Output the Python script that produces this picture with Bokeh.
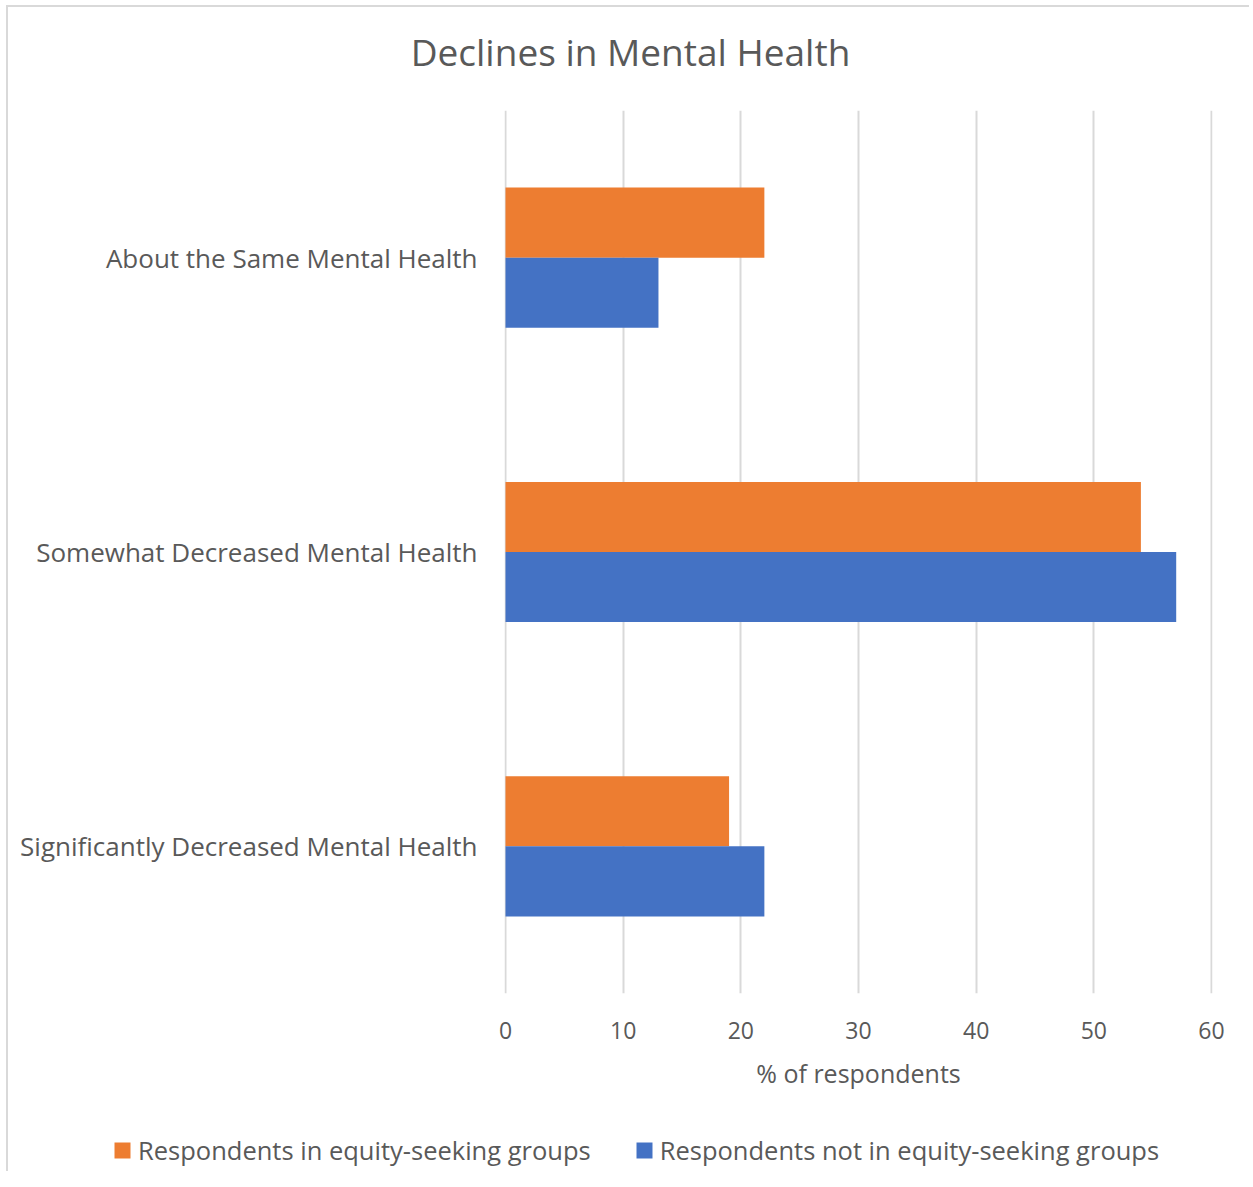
from bokeh.plotting import figure
from bokeh.layouts import column
from bokeh.models import (FactorRange, Legend, LegendItem, ColumnDataSource,
                          FixedTicker, Label, Range1d)
from bokeh.transform import dodge
from bokeh.embed import file_html
from bokeh.resources import INLINE

title_text = "Declines in Mental Health"
categories = ["About the Same Mental Health",
              "Somewhat Decreased Mental Health",
              "Significantly Decreased Mental Health"]
equity = [22, 54, 19]
not_equity = [13, 57, 22]
series_names = ["Respondents in equity-seeking groups",
                "Respondents not in equity-seeking groups"]
x_ticks = [0, 10, 20, 30, 40, 50, 60]
x_label = "% of respondents"

ORANGE = "#ED7D31"
BLUE = "#4472C4"
TEXT = "#595959"
GRID = "#D9D9D9"
FONT = "Open Sans"
W = 1243


def blank(height):
    f = figure(width=W, height=height, x_range=Range1d(0, 1), y_range=Range1d(0, 1),
               min_border=0, min_border_left=0, min_border_right=0,
               min_border_top=0, min_border_bottom=0,
               output_backend="svg", toolbar_location=None)
    f.axis.visible = False
    f.grid.visible = False
    f.outline_line_color = None
    f.border_fill_color = "white"
    f.frame_align = False
    return f


# ---- title strip
top = blank(103)
top.add_layout(Label(x=622, y=59, x_units="screen", y_units="screen", text=title_text,
                     text_align="center", text_baseline="middle",
                     text_font=FONT, text_font_size="37px", text_color=TEXT))

# ---- main chart
src = ColumnDataSource(dict(cat=categories, equity=equity, not_equity=not_equity))

p = figure(y_range=FactorRange(factors=list(reversed(categories)), range_padding=0),
           x_range=(-0.085, 60.085),
           frame_width=708, frame_height=883,
           min_border_left=496, min_border_right=39,
           min_border_top=0, min_border_bottom=100,
           output_backend="svg", toolbar_location=None)
p.frame_align = False

p.hbar(y=dodge("cat", 0.119, range=p.y_range), left=0, right="equity",
       height=0.238, source=src, fill_color=ORANGE, line_color=None)
p.hbar(y=dodge("cat", -0.119, range=p.y_range), left=0, right="not_equity",
       height=0.238, source=src, fill_color=BLUE, line_color=None)

p.outline_line_color = None
p.background_fill_color = "white"
p.border_fill_color = "white"

p.xaxis.ticker = FixedTicker(ticks=x_ticks)
p.xaxis.axis_line_color = None
p.xaxis.major_tick_line_color = None
p.xaxis.minor_tick_line_color = None
p.xaxis.major_label_text_font = FONT
p.xaxis.major_label_text_font_size = "23px"
p.xaxis.major_label_text_color = TEXT
p.xaxis.major_label_standoff = 22
p.xaxis.axis_label = x_label
p.xaxis.axis_label_text_font = FONT
p.xaxis.axis_label_text_font_size = "25px"
p.xaxis.axis_label_text_font_style = "normal"
p.xaxis.axis_label_text_color = TEXT
p.xaxis.axis_label_standoff = 14

p.yaxis.axis_line_color = None
p.yaxis.major_tick_line_color = None
p.yaxis.minor_tick_line_color = None
p.yaxis.major_label_text_font = FONT
p.yaxis.major_label_text_font_size = "26px"
p.yaxis.major_label_text_color = TEXT
p.yaxis.major_label_standoff = 21

p.xgrid.grid_line_color = GRID
p.xgrid.grid_line_width = 2
p.ygrid.grid_line_color = None

# ---- legend strip (swatch renderers sit outside the strip's visible range)
bottom = blank(80)
swatch = ColumnDataSource(dict(y=[-5], right=[-5]))
d1 = bottom.hbar(y="y", right="right", left=-6, height=0.5, source=swatch,
                 fill_color=ORANGE, line_color=None)
d2 = bottom.hbar(y="y", right="right", left=-6, height=0.5, source=swatch,
                 fill_color=BLUE, line_color=None)
legend = Legend(items=[LegendItem(label=series_names[0], renderers=[d1]),
                       LegendItem(label=series_names[1], renderers=[d2])],
                orientation="horizontal", location=(104, 6),
                glyph_width=20, glyph_height=20, label_standoff=6, label_height=30,
                spacing=43, padding=0, margin=0,
                border_line_color=None, background_fill_alpha=0,
                label_text_font=FONT, label_text_font_size="25.5px",
                label_text_color=TEXT)
bottom.add_layout(legend, "center")

layout = column(top, p, bottom, spacing=0)
layout.margin = (7, 0, 0, 8)
layout.styles = {"box-shadow": "-2px -2px 0 0 #d9d9d9"}

open("out.html", "w").write(file_html(layout, INLINE))
